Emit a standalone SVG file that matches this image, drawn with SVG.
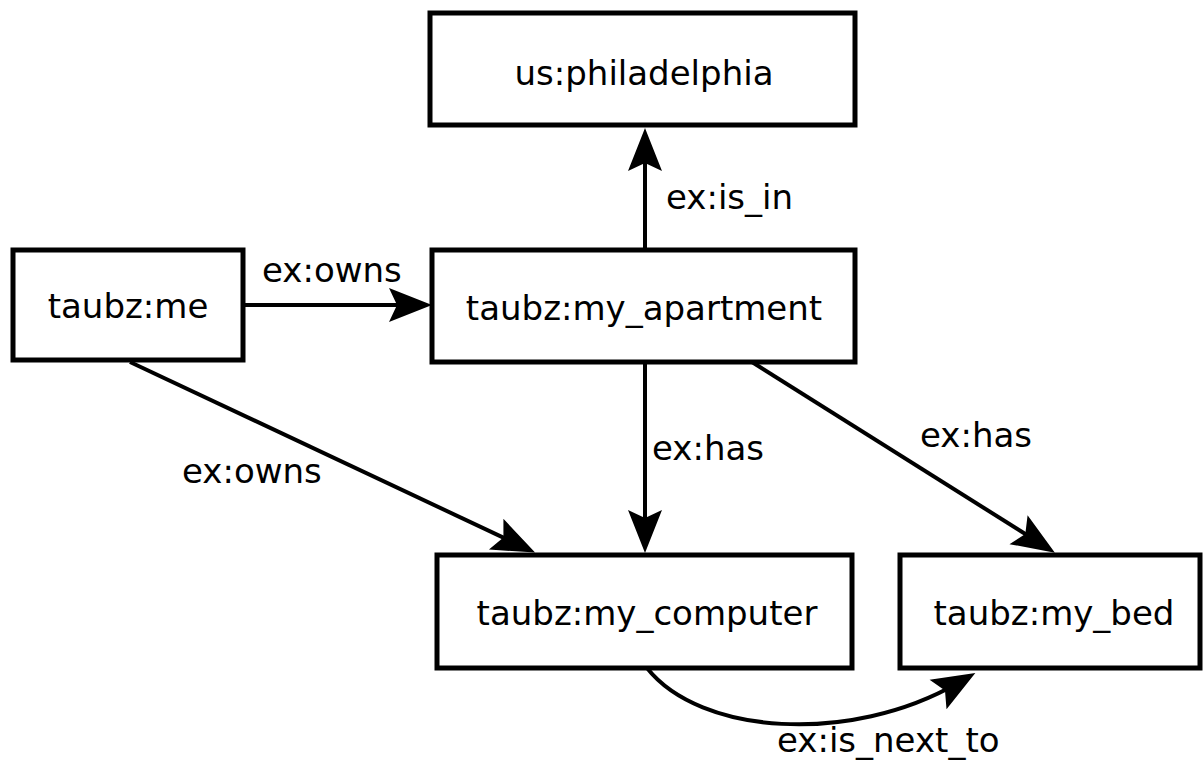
<svg xmlns="http://www.w3.org/2000/svg" width="1204" height="765" viewBox="0 0 1204 765">
<style>
.box{fill:#fff;stroke:#000;stroke-width:5}
.lbl{font-family:"DejaVu Sans",sans-serif;font-size:34px;fill:#000;text-anchor:middle}
.edge{font-family:"DejaVu Sans",sans-serif;font-size:34px;fill:#000}
.conn{fill:none;stroke:#000;stroke-width:4}
</style>
<defs>
<marker id="arr" markerUnits="userSpaceOnUse" viewBox="-30 -20 54 40" refX="0" refY="0" markerWidth="54" markerHeight="40" orient="auto" overflow="visible">
<path d="M20,0 L-23,-17 L-15,0 L-23,17 Z" fill="#000"/>
</marker>
</defs>
<rect width="1204" height="765" fill="#fff"/>
<g id="connectors">
<path class="conn" d="M243,305 L412,305" marker-end="url(#arr)"/>
<path class="conn" d="M645,250 L645,148" marker-end="url(#arr)"/>
<path class="conn" d="M645,362 L645,533" marker-end="url(#arr)"/>
<path class="conn" d="M130,362 L517,544" marker-end="url(#arr)"/>
<path class="conn" d="M752,362 L1038,542" marker-end="url(#arr)"/>
<path class="conn" d="M647,668 C700,735 850,745 958,683" marker-end="url(#arr)"/>
<text class="edge" x="262" y="282">ex:owns</text>
<text class="edge" x="666" y="209">ex:is_in</text>
<text class="edge" x="182" y="483">ex:owns</text>
<text class="edge" x="652" y="460">ex:has</text>
<text class="edge" x="920" y="447">ex:has</text>
<text class="edge" x="777" y="752">ex:is_next_to</text>
</g>
<g id="philadelphia"><rect class="box" x="430" y="13" width="425" height="112"/><text class="lbl" x="644" y="85">us:philadelphia</text></g>
<g id="me"><rect class="box" x="13" y="250" width="230" height="110"/><text class="lbl" x="128" y="318">taubz:me</text></g>
<g id="apartment"><rect class="box" x="432" y="250" width="423" height="112"/><text class="lbl" x="644" y="320">taubz:my_apartment</text></g>
<g id="computer"><rect class="box" x="437" y="555" width="415" height="113"/><text class="lbl" x="647" y="625">taubz:my_computer</text></g>
<g id="bed"><rect class="box" x="900" y="555" width="300" height="113"/><text class="lbl" x="1054" y="625">taubz:my_bed</text></g>
</svg>
